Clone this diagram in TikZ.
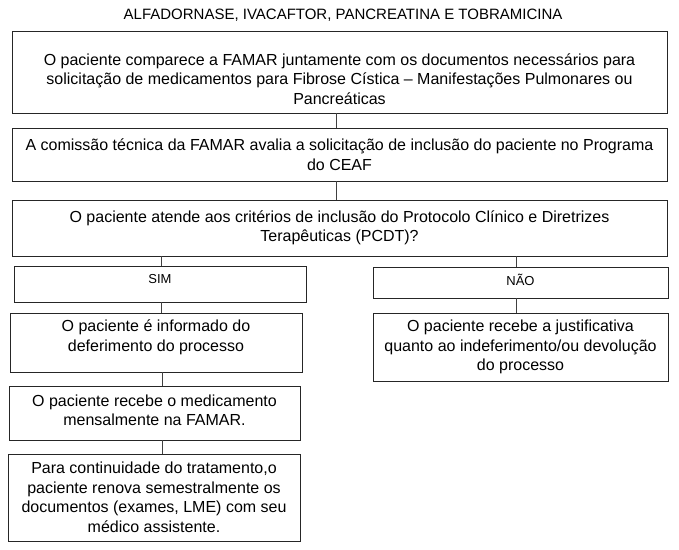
\documentclass[tikz,border=0pt]{standalone}
\usepackage{fontspec}
\setmainfont{Liberation Sans}
\begin{document}
\begin{tikzpicture}[x=1pt,y=-1pt,
  body/.style={align=center, inner sep=0pt, font=\fontsize{16}{19.5}\selectfont},
  box/.style={draw=black!85, line width=0.8pt, body},
  small/.style={inner sep=0pt, font=\fontsize{13}{15}\selectfont},
  link/.style={draw=black!75, line width=0.8pt}]
\useasboundingbox (0,0) rectangle (679,549);
\node[font=\fontsize{15}{17}\selectfont] (title) at (343,15) {ALFADORNASE, IVACAFTOR, PANCREATINA E TOBRAMICINA};
\node[box, minimum width=655pt, minimum height=82pt,
  label={[body, yshift=-7pt]center:{O paciente comparece a FAMAR juntamente com os documentos necessários para\\
   solicitação de medicamentos para Fibrose Cística – Manifestações Pulmonares ou\\
   Pancreáticas}}] (b1) at (339.5,72) {};
\node[box, minimum width=655pt, minimum height=53pt] (b2) at (339.5,154.5)
  {A comissão técnica da FAMAR avalia a solicitação de inclusão do paciente no Programa\\
   do CEAF};
\node[box, minimum width=655pt, minimum height=56pt] (b3) at (339.5,228)
  {O paciente atende aos critérios de inclusão do Protocolo Clínico e Diretrizes\\
   Terapêuticas (PCDT)?};
\node[box, minimum width=292pt, minimum height=36pt,
  label={[small, yshift=4.5pt]center:SIM}] (sim) at (160,284) {};
\node[box, minimum width=295pt, minimum height=31pt,
  label={[small, yshift=2.5pt]center:NÃO}] (nao) at (520.5,282.5) {};
\node[box, minimum width=292pt, minimum height=59pt,
  label={[body, yshift=5pt]center:{O paciente é informado do\\ deferimento do processo}}] (b5) at (156,342.5) {};
\node[box, minimum width=295pt, minimum height=68pt] (b8) at (520.5,347)
  {O paciente recebe a justificativa\\ quanto ao indeferimento/ou devolução\\ do processo};
\node[box, minimum width=291pt, minimum height=54pt,
  label={[body, yshift=2.5pt]center:{O paciente recebe o medicamento\\ mensalmente na FAMAR.}}] (b6) at (154.5,413) {};
\node[box, minimum width=292pt, minimum height=87pt] (b7) at (154,497.5)
  {Para continuidade do tratamento,o\\ paciente renova semestralmente os\\ documentos (exames, LME) com seu\\ médico assistente.};
\draw[link] ([xshift=-3.5pt]b1.south) -- ([xshift=-3.5pt]b1.south |- b2.north);
\draw[link] ([xshift=-3.5pt]b2.south) -- ([xshift=-3.5pt]b2.south |- b3.north);
\draw[link] ([xshift=1.5pt]sim.north) -- ([xshift=1.5pt]sim.north |- b3.south);
\draw[link] ([xshift=-4.5pt]nao.north) -- ([xshift=-4.5pt]nao.north |- b3.south);
\draw[link] ([xshift=1.5pt]sim.south) -- ([xshift=1.5pt]sim.south |- b5.north);
\draw[link] ([xshift=-4.5pt]nao.south) -- ([xshift=-4.5pt]nao.south |- b8.north);
\draw[link] ([xshift=6pt]b5.south) -- ([xshift=6pt]b5.south |- b6.north);
\draw[link] ([xshift=7.5pt]b6.south) -- ([xshift=7.5pt]b6.south |- b7.north);
\end{tikzpicture}
\end{document}
